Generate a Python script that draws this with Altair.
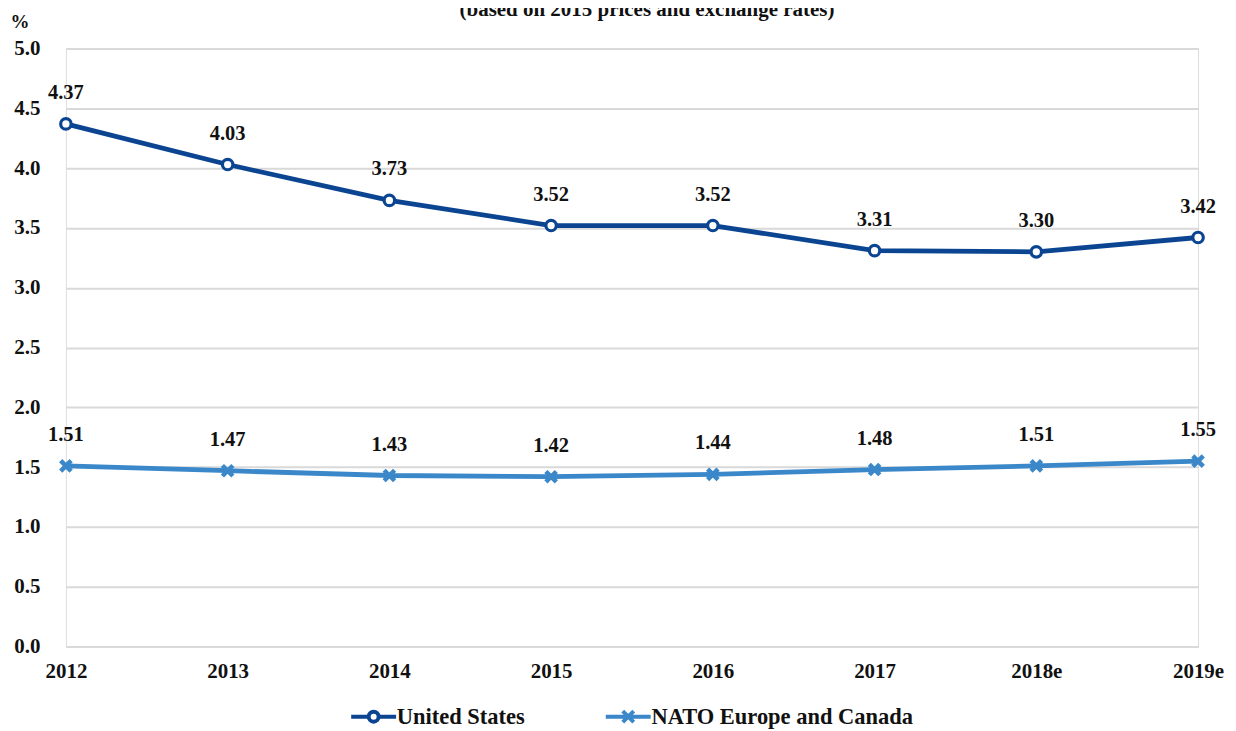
import altair as alt
import pandas as pd

years = ["2012", "2013", "2014", "2015", "2016", "2017", "2018e", "2019e"]
us = [4.37, 4.03, 3.73, 3.52, 3.52, 3.31, 3.30, 3.42]
nato = [1.51, 1.47, 1.43, 1.42, 1.44, 1.48, 1.51, 1.55]
series = ["United States", "NATO Europe and Canada"]
colors = ["#0b4592", "#3a87c9"]

rows = []
for y, v in zip(years, us):
    rows.append({"year": y, "value": v, "series": series[0], "label": f"{v:.2f}"})
for y, v in zip(years, nato):
    rows.append({"year": y, "value": v, "series": series[1], "label": f"{v:.2f}"})
df = pd.DataFrame(rows)

FONT = "Liberation Serif"
XPATH = "M-1,-1L1,1M-1,1L1,-1"
US_LEG = "M-4.5,0H-1M1,0H4.5M-1,0A1,1 0 1,1 1,0A1,1 0 1,1 -1,0"
NATO_LEG = "M-4.5,0H4.5M-1.1,-1.1L1.1,1.1M-1.1,1.1L1.1,-1.1"

x = alt.X("year:N", sort=years, title=None,
          scale=alt.Scale(domain=years, padding=0, paddingOuter=0),
          axis=alt.Axis(labelAngle=0, labelFont=FONT, labelFontWeight="bold",
                        labelFontSize=21, labelColor="#111", ticks=False,
                        domain=False, grid=False, labelPadding=14))
y = alt.Y("value:Q", title=None,
          scale=alt.Scale(domain=[0, 5]),
          axis=alt.Axis(values=[0, 0.5, 1, 1.5, 2, 2.5, 3, 3.5, 4, 4.5, 5],
                        format=".1f", labelFont=FONT, labelFontWeight="bold",
                        labelFontSize=21, labelColor="#111", ticks=False,
                        domain=False, grid=True, gridColor="#d9d9d9",
                        gridWidth=2, labelPadding=26))

cscale = alt.Scale(domain=series, range=colors)
color = alt.Color("series:N", scale=cscale, legend=None)

base = alt.Chart(df)

lines = base.mark_line(strokeWidth=4.8).encode(x=x, y=y, color=color)

us_pts = base.transform_filter(alt.datum.series == series[0]).mark_point(
    shape="circle", size=110, fill="white", stroke=colors[0], strokeWidth=3.2, opacity=1
).encode(x=x, y=y)

nato_pts = base.transform_filter(alt.datum.series == series[1]).mark_point(
    shape=XPATH, size=110, stroke=colors[1], strokeWidth=4.5, opacity=1
).encode(x=x, y=y)

labels = base.mark_text(dy=-31, font=FONT, fontWeight="bold", fontSize=20.5,
                        color="#111").encode(x=x, y=y, text="label:N")


def leg(lx, col, stype=None):
    kw = dict(orient="none", legendX=lx, legendY=658, direction="horizontal", title=None,
              labelFont=FONT, labelFontWeight="bold", labelFontSize=22.5, labelColor="#111",
              labelLimit=500, symbolSize=100, symbolStrokeWidth=4, symbolOpacity=1,
              symbolFillColor="white", symbolStrokeColor=col, labelOffset=12, padding=0)
    if stype:
        kw["symbolType"] = stype
    return alt.Legend(**kw)


leg_us = base.transform_filter("datum.value < 0").mark_point(opacity=1).encode(
    x=x, y=y,
    stroke=alt.Stroke("series:N", scale=alt.Scale(domain=[series[0]], range=[colors[0]]),
                      legend=leg(297, colors[0], US_LEG)),
)

leg_nato = base.transform_filter("datum.value < 0").mark_point(opacity=1).encode(
    x=x, y=y,
    shape=alt.Shape("series:N", scale=alt.Scale(domain=[series[1]], range=[NATO_LEG]),
                    legend=leg(552, colors[1])),
)

pct = alt.Chart(pd.DataFrame({"t": ["%"]})).mark_text(
    font=FONT, fontWeight="bold", fontSize=19, color="#111", align="center"
).encode(x=alt.value(-46), y=alt.value(-27), text="t:N")

title = alt.Chart(pd.DataFrame({"t": ["(based on 2015 prices and exchange rates)"]})).mark_text(
    font=FONT, fontWeight="bold", fontSize=21, color="#111", align="center", baseline="alphabetic"
).encode(x=alt.value(582), y=alt.value(-33), text="t:N")

chart = alt.layer(lines, us_pts, nato_pts, labels, leg_us, leg_nato, pct, title).properties(
    width=1134, height=599,
    autosize=alt.AutoSizeParams(type="none"),
    padding={"left": 58, "top": 40, "right": 30, "bottom": 84},
).configure_view(stroke=None).configure(background="white")

chart.save("out.html", embed_options={"renderer": "svg", "actions": False})
